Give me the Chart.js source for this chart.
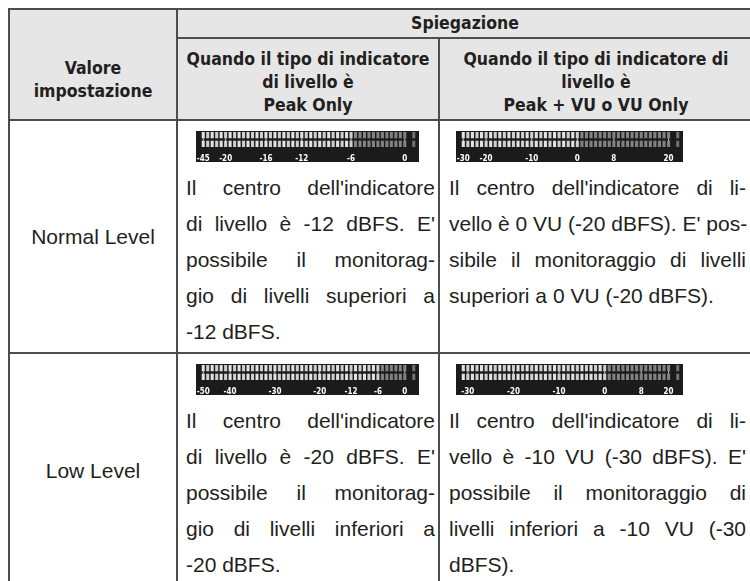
<!DOCTYPE html>
<html>
<head>
<meta charset="utf-8">
<script src="https://cdn.jsdelivr.net/npm/chart.js@4"></script>
<style>
    body { margin: 0; background: #fff; width: 750px; height: 581px; overflow: hidden;
           font-family: "Liberation Sans", Arial, sans-serif; color: #231f20; }
    table { position: absolute; left: 8px; top: 8px; border-collapse: collapse; table-layout: fixed; width: 744px; }
    td, th { border: 2px solid #4d4d4d; padding: 0; }
    th { background: #e6e6e6; font-family: "DejaVu Sans Condensed", "Liberation Sans", sans-serif;
         font-weight: bold; font-size: 17.5px; line-height: 23px; color: #231f20; }
    th.first { vertical-align: middle; padding-top: 30px; }
    th.sub { padding-top: 7px; }
    td.name { text-align: center; font-size: 21px; vertical-align: middle; }
    td.desc { vertical-align: top; padding-top: 10px; font-size: 21px; line-height: 36px; }
    td.c2 { padding-left: 8px; padding-right: 3px; }
    td.c3 { padding-left: 9px; padding-right: 6px; }
    .j { text-align: justify; text-align-last: justify; white-space: nowrap; }
    .l { text-align: left; white-space: nowrap; }
    canvas.meter { display: block; background: #1b1b1b; margin-bottom: 8px; }
</style>
</head>
<body>
<table>
    <colgroup><col style="width:168px"><col style="width:262px"><col style="width:314px"></colgroup>
    <tr style="height:29px">
        <th rowspan="2" class="first">Valore<br>impostazione</th>
        <th colspan="2">Spiegazione</th>
    </tr>
    <tr style="height:82px">
        <th class="sub">Quando il tipo di indicatore<br>di livello è<br>Peak Only</th>
        <th class="sub">Quando il tipo di indicatore di<br>livello è<br>Peak + VU o VU Only</th>
    </tr>
    <tr style="height:233px">
        <td class="name">Normal Level</td>
        <td class="desc c2">
            <canvas class="meter" id="m1" width="223" height="31" style="margin-left:10px"></canvas>
            <div class="j">Il centro dell'indicatore</div>
            <div class="j">di livello è -12 dBFS. E'</div>
            <div class="j">possibile il monitorag-</div>
            <div class="j">gio di livelli superiori a</div>
            <div class="l">-12 dBFS.</div>
        </td>
        <td class="desc c3">
            <canvas class="meter" id="m2" width="227" height="31" style="margin-left:7px"></canvas>
            <div class="j">Il centro dell'indicatore di li-</div>
            <div class="j">vello è 0 VU (-20 dBFS). E' pos-</div>
            <div class="j">sibile il monitoraggio di livelli</div>
            <div class="l">superiori a 0 VU (-20 dBFS).</div>
        </td>
    </tr>
    <tr style="height:236px">
        <td class="name">Low Level</td>
        <td class="desc c2">
            <canvas class="meter" id="m3" width="223" height="31" style="margin-left:10px"></canvas>
            <div class="j">Il centro dell'indicatore</div>
            <div class="j">di livello è -20 dBFS. E'</div>
            <div class="j">possibile il monitorag-</div>
            <div class="j">gio di livelli inferiori a</div>
            <div class="l">-20 dBFS.</div>
        </td>
        <td class="desc c3">
            <canvas class="meter" id="m4" width="227" height="31" style="margin-left:7px"></canvas>
            <div class="j">Il centro dell'indicatore di li-</div>
            <div class="j">vello è -10 VU (-30 dBFS). E'</div>
            <div class="j">possibile il monitoraggio di</div>
            <div class="j">livelli inferiori a -10 VU (-30</div>
            <div class="l">dBFS).</div>
        </td>
    </tr>
</table>

<script>
// Segmenti dell'indicatore (poi uno spazio e il blocco di picco)
const SEGMENTS = 46;

// Peak Only - Normal Level
const peakNormalLabels = ['-45', '-20', '-16', '-12', '-6', '0'];
const peakNormalTicks = [0, 5, 14, 22, 33, 45];
const peakNormalLit = 34;

// Peak + VU - Normal Level
const vuNormalLabels = ['-30', '-20', '-10', '0', '8', '20'];
const vuNormalTicks = [0, 5, 15, 25, 33, 45];
const vuNormalLit = 26;

// Peak Only - Low Level
const peakLowLabels = ['-50', '-40', '-30', '-20', '-12', '-6', '0'];
const peakLowTicks = [0, 6, 16, 26, 33, 39, 45];
const peakLowLit = 40;

// Peak + VU - Low Level
const vuLowLabels = ['-30', '-20', '-10', '0', '8', '20'];
const vuLowTicks = [1, 11, 21, 31, 39, 45];
const vuLowLit = 32;

function drawMeter(canvasId, tickLabels, tickIdx, litCount) {
    const n = SEGMENTS + 2;
    const cats = [...Array(n).keys()];
    const colors = cats.map(i => {
        if (i === SEGMENTS) return 'rgba(0,0,0,0)';
        if (i === n - 1) return '#6f6f6f';
        if (i < litCount) return i % 2 ? '#cfcfcf' : '#e2e2e2';
        return '#828282';
    });
    const topRow = cats.map(i => i === SEGMENTS ? null : [0.58, 1]);
    const bottomRow = cats.map(i => i === SEGMENTS ? null : [0, 0.42]);
    const marks = cats.map(i => tickIdx.includes(i) ? [0.42, 0.58] : null);

    new Chart(document.getElementById(canvasId), {
        type: 'bar',
        data: {
            labels: cats,
            datasets: [
                { data: topRow, backgroundColor: colors, barPercentage: 0.68, categoryPercentage: 1, grouped: false },
                { data: bottomRow, backgroundColor: colors, barPercentage: 0.68, categoryPercentage: 1, grouped: false },
                { data: marks, backgroundColor: '#d8d8d8', barPercentage: 0.22, categoryPercentage: 1, grouped: false }
            ]
        },
        options: {
            responsive: false,
            animation: false,
            events: [],
            layout: { padding: { left: 5, right: 3, top: 1, bottom: 0 } },
            plugins: { legend: { display: false }, tooltip: { enabled: false } },
            scales: {
                x: {
                    grid: { display: false },
                    border: { display: false },
                    ticks: {
                        autoSkip: false,
                        maxRotation: 0,
                        padding: 0,
                        color: '#ffffff',
                        font: { family: 'DejaVu Sans Condensed', weight: 'bold', size: 8, lineHeight: 1 },
                        callback: (v, i) => {
                            const k = tickIdx.indexOf(i);
                            return k < 0 ? '' : tickLabels[k];
                        }
                    }
                },
                y: { display: false, min: 0, max: 1 }
            }
        }
    });
}

drawMeter('m1', peakNormalLabels, peakNormalTicks, peakNormalLit);
drawMeter('m2', vuNormalLabels, vuNormalTicks, vuNormalLit);
drawMeter('m3', peakLowLabels, peakLowTicks, peakLowLit);
drawMeter('m4', vuLowLabels, vuLowTicks, vuLowLit);
</script>
</body>
</html>
